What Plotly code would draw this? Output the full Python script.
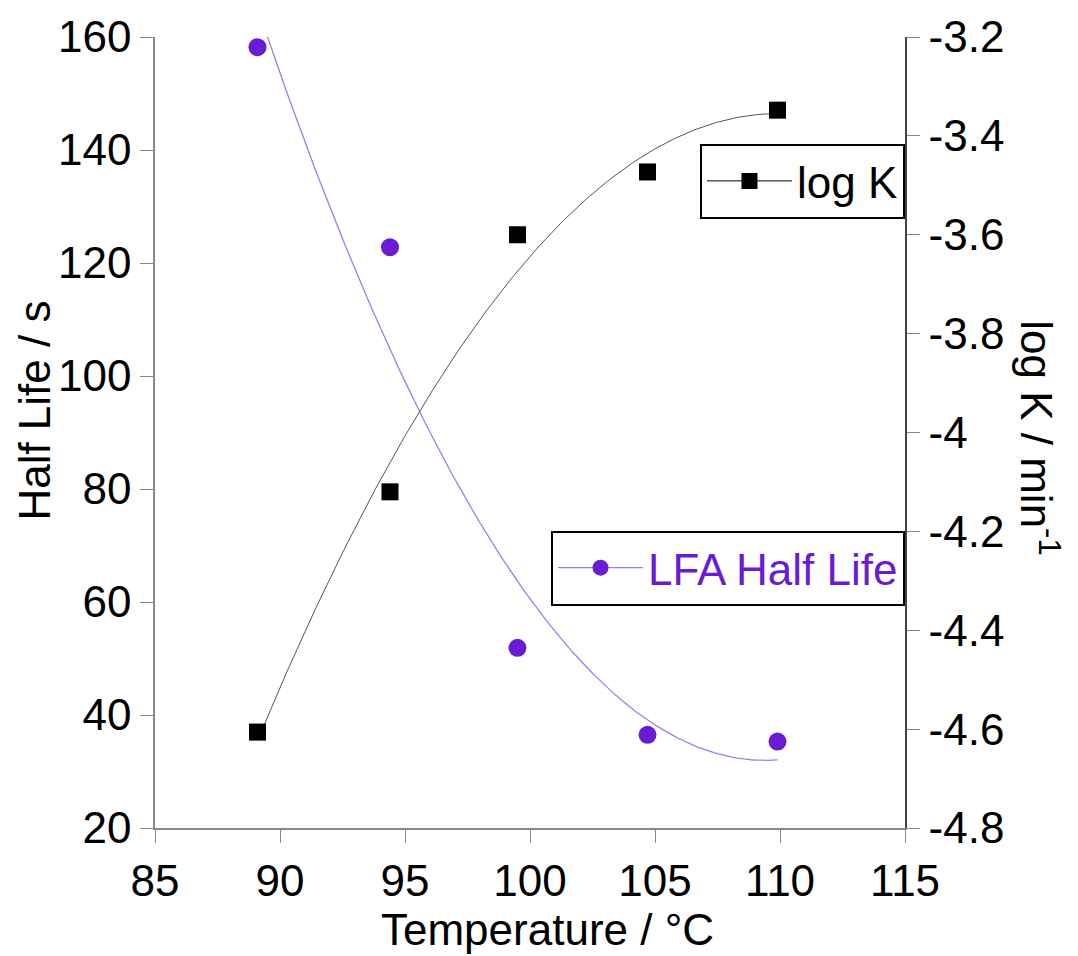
import numpy as np
import plotly.graph_objects as go

# Measured data
temperature = [89.1, 94.4, 99.5, 104.7, 109.9]          # °C
half_life = [158.2, 122.8, 51.9, 36.5, 35.3]             # s
log_k = [-4.606, -4.120, -3.600, -3.473, -3.348]         # log K / min^-1

x_ticks = [85, 90, 95, 100, 105, 110, 115]
y_left_ticks = [20, 40, 60, 80, 100, 120, 140, 160]
y_right_ticks = [-4.8, -4.6, -4.4, -4.2, -4.0, -3.8, -3.6, -3.4, -3.2]
y_right_labels = ["-4.8", "-4.6", "-4.4", "-4.2", "-4", "-3.8", "-3.6", "-3.4", "-3.2"]

PURPLE = "#6a1bd6"
PURPLE_FIT = "#a27af0"
FONT = "Liberation Sans, Arial, sans-serif"
FS = 44

# Quadratic trend lines through each series
x_fit = np.linspace(min(temperature), max(temperature), 200)
hl_fit = np.polyval(np.polyfit(temperature, half_life, 2), x_fit)
lk_fit = np.polyval(np.polyfit(temperature, log_k, 2), x_fit)

fig = go.Figure()

# Half life (left axis)
fig.add_trace(go.Scatter(x=x_fit, y=hl_fit, mode="lines",
                         line=dict(color=PURPLE_FIT, width=1.3),
                         showlegend=False, hoverinfo="skip"))
fig.add_trace(go.Scatter(x=temperature, y=half_life, mode="markers",
                         marker=dict(symbol="circle", size=18, color=PURPLE),
                         showlegend=False))
fig.add_trace(go.Scatter(x=[None], y=[None], mode="lines+markers",
                         name="LFA Half Life", legend="legend2",
                         line=dict(color=PURPLE_FIT, width=1.3),
                         marker=dict(symbol="circle", size=18, color=PURPLE)))

# log K (right axis)
fig.add_trace(go.Scatter(x=x_fit, y=lk_fit, mode="lines", yaxis="y2",
                         line=dict(color="#555555", width=1),
                         showlegend=False, hoverinfo="skip"))
fig.add_trace(go.Scatter(x=temperature, y=log_k, mode="markers", yaxis="y2",
                         marker=dict(symbol="square", size=17, color="black"),
                         showlegend=False))
fig.add_trace(go.Scatter(x=[None], y=[None], mode="lines+markers", yaxis="y2",
                         name="log K", legend="legend",
                         line=dict(color="black", width=1),
                         marker=dict(symbol="square", size=17, color="black")))

axis_common = dict(showgrid=False, zeroline=False, ticks="outside", ticklen=13,
                   tickwidth=1.2, tickcolor="#888888",
                   tickfont=dict(family=FONT, size=FS, color="black"))

fig.update_layout(
    width=1078, height=956,
    margin=dict(l=155, r=173, t=37, b=128),
    paper_bgcolor="white", plot_bgcolor="white",
    font=dict(family=FONT, size=FS, color="black"),
    xaxis=dict(range=[85, 115], tickvals=x_ticks, showline=True,
               linecolor="#888888", linewidth=1.5, **axis_common),
    yaxis=dict(range=[20, 160], tickvals=y_left_ticks, showline=True,
               linecolor="#888888", linewidth=1.5, **axis_common),
    yaxis2=dict(range=[-4.8, -3.2], tickvals=y_right_ticks, ticktext=y_right_labels,
                overlaying="y", side="right", showline=True,
                linecolor="#444444", linewidth=1.5, **axis_common),
    legend=dict(x=1, xanchor="right", y=0.865, yanchor="top",
                bordercolor="black", borderwidth=2, bgcolor="white",
                font=dict(family=FONT, size=44, color="black"), itemwidth=85),
    legend2=dict(x=1, xanchor="right", y=0.376, yanchor="top",
                 bordercolor="black", borderwidth=2, bgcolor="white",
                 font=dict(family=FONT, size=44, color=PURPLE), itemwidth=85),
    annotations=[
        dict(text="Temperature / °C", xref="paper", yref="paper",
             x=0.523, y=-0.128, xanchor="center", yanchor="middle",
             showarrow=False, font=dict(family=FONT, size=FS)),
        dict(text="Half Life / s", xref="paper", yref="paper",
             x=-0.161, y=0.528, xanchor="center", yanchor="middle",
             textangle=-90, showarrow=False, font=dict(family=FONT, size=FS)),
        dict(text="log K / min<sup>-1</sup>", xref="paper", yref="paper",
             x=1.18, y=0.494, xanchor="center", yanchor="middle",
             textangle=90, showarrow=False, font=dict(family=FONT, size=FS)),
    ],
)

fig.write_html("out.html")
